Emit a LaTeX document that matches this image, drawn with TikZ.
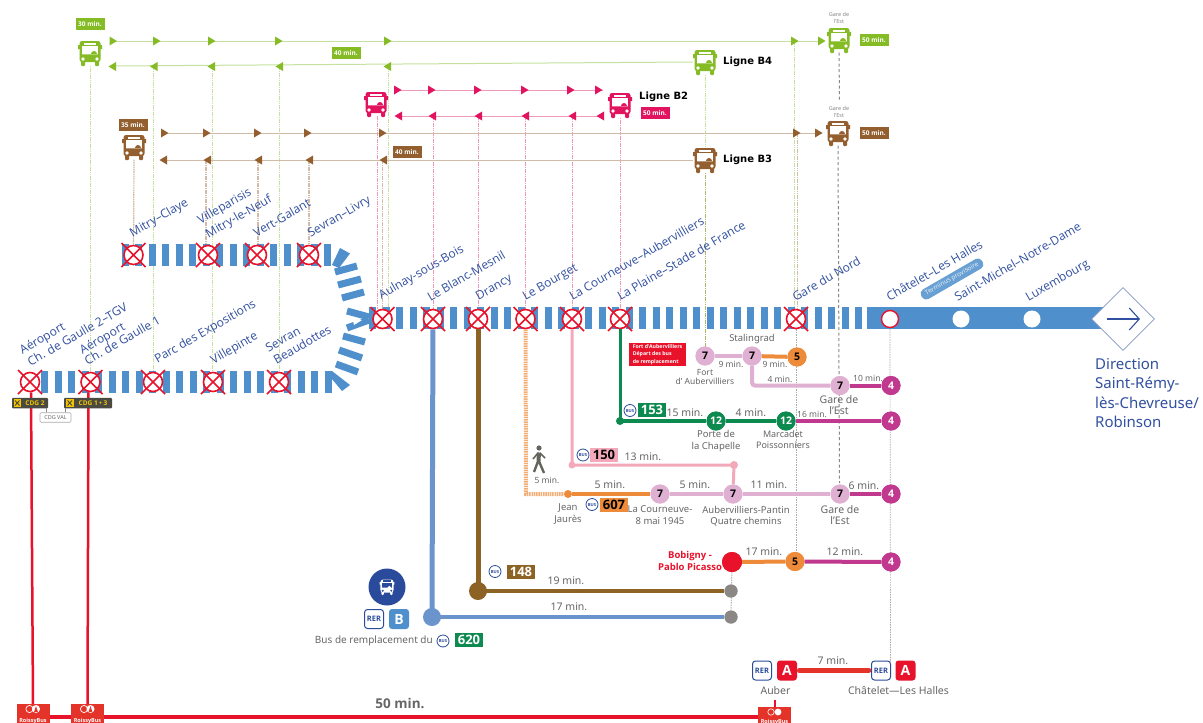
\documentclass[tikz,border=0pt]{standalone}
\usepackage{fontspec}
\setmainfont{Noto Sans}
\newfontfamily\stfont{Open Sans}
\newfontfamily\lgfont{DejaVu Sans}
\newfontfamily\bdff{Open Sans}
\newcommand\bdf{\bdff\bfseries}
\usetikzlibrary{shapes.geometric,arrows.meta}
\definecolor{cgreen}{HTML}{85BC25}
\definecolor{lgreen}{HTML}{C6E19F}
\definecolor{cpink}{HTML}{E2145F}
\definecolor{lpink}{HTML}{F09ABA}
\definecolor{cbrown}{HTML}{945F2E}
\definecolor{lbrown}{HTML}{D2BBA6}
\definecolor{barblue}{HTML}{4F8FCB}
\definecolor{stblue}{HTML}{31509F}
\definecolor{xred}{HTML}{E8132B}
\definecolor{mpink}{HTML}{E0B0D2}
\definecolor{magen}{HTML}{C1398F}
\definecolor{morange}{HTML}{EE8B3A}
\definecolor{mgreen}{HTML}{0D8A50}
\definecolor{mblue}{HTML}{6B94CD}
\definecolor{mbrown}{HTML}{8C6325}
\definecolor{mgrey}{HTML}{8A8785}
\definecolor{lrose}{HTML}{F4A9BB}
\definecolor{rerblue}{HTML}{2A4B9B}
\definecolor{txtgrey}{HTML}{666666}
\definecolor{dgrey}{HTML}{4A4A42}
\definecolor{cyell}{HTML}{F2C500}
\definecolor{lineA}{HTML}{E4342A}
\colorlet{buswin}{white}
\tikzset{
  pics/bus/.style={code={
    \fill[#1,rounded corners=2.5pt] (-10.5,-12) rectangle (10.5,9);
    \fill[#1] (-12,-8) rectangle (-10,-4) (10,-8) rectangle (12,-4);
    \fill[#1,rounded corners=1pt] (-9,7) rectangle (-5,13) (5,7) rectangle (9,13);
    \fill[buswin] (-8,-7) rectangle (8,1.5);
    \fill[#1] (-8,1.5) -- (-8,1) -- (1,1) arc[start angle=180,end angle=0,radius=3pt] -- (8,1) -- (8,1.5) -- cycle;
    \fill[buswin] (-6,-10.5) rectangle (6,-8.5);
    \fill[buswin] (-7,6) circle (1.8pt) (7,6) circle (1.8pt);
  }},
  busbox/.style={minimum width=24pt,minimum height=25pt,inner sep=0pt},
  vg/.style={lgreen,line width=1pt,dash pattern=on 1.6pt off .7pt},
  vb/.style={lbrown,line width=1.2pt,dash pattern=on 1.6pt off .7pt},
  vp/.style={lpink,line width=1pt,dash pattern=on 1.6pt off .7pt},
  vgrey/.style={mgrey,line width=1pt,dash pattern=on 3pt off 2.5pt},
  vfine/.style={mgrey!70,line width=.7pt,dash pattern=on 1.5pt off 1pt},
  bar/.style={barblue,line width=22pt,dash pattern=on 7pt off 6.5pt},
  arcbar/.style={barblue,line width=7pt},
  xst/.style={circle,draw=xred,fill=white,line width=1.6pt,minimum size=19pt,inner sep=0pt},
  xcr/.style={xred,line width=1.5pt},
  st/.style={text=stblue,font=\stfont\fontsize{12}{14}\selectfont,xshift=2.5pt,yshift=-1.5pt,rotate=30,anchor=base west,inner sep=0pt},
  wst/.style={circle,fill=white,minimum size=17pt,inner sep=0pt},
  tm/.style={text=txtgrey,font=\fontsize{10.5}{12}\selectfont,inner sep=0pt},
  tms/.style={text=txtgrey,font=\fontsize{8.5}{10}\selectfont,inner sep=0pt},
  capt/.style={text=txtgrey,font=\fontsize{9.5}{11.5}\selectfont,inner sep=0pt,align=center},
  mn/.style={circle,fill=#1,minimum size=19pt,inner sep=0pt,font=\bdf\fontsize{10.5}{12}\selectfont},
  gn/.style={circle,fill=mgrey,minimum size=13pt,inner sep=0pt},
  tag/.style={fill=#1,text=white,font=\bdf\fontsize{6.5}{8}\selectfont,inner sep=0pt,minimum width=29pt,minimum height=11.5pt},
  num/.style={fill=#1,font=\bdf\fontsize{13}{14}\selectfont,inner sep=0pt,minimum height=14pt,minimum width=28pt},
  buslogo/.style={circle,draw=rerblue,fill=white,line width=.8pt,minimum size=12pt,inner sep=0pt,text=rerblue,font=\bdf\fontsize{4.2}{5}\selectfont},
  lig/.style={font=\lgfont\bfseries\fontsize{10}{12}\selectfont,inner sep=0pt,anchor=west},
  rer/.style={draw=rerblue,line width=1pt,fill=white,rounded corners=3pt,text=rerblue,font=\bdf\fontsize{7.5}{9}\selectfont,minimum size=19pt,inner sep=0pt},
  lett/.style={fill=#1,text=white,rounded corners=3pt,font=\bdf\fontsize{14}{15}\selectfont,minimum size=20pt,inner sep=0pt},
  cdg/.style={fill=dgrey,text=cyell,rounded corners=1pt,font=\bdf\fontsize{6.5}{8}\selectfont,inner sep=0pt,minimum height=10.5pt},
  rbox/.style={fill=lineA,minimum width=33pt,minimum height=20pt,inner sep=0pt},
}
\newcommand\triR[3]{\fill[#3] (#1-4,#2-4.5) -- (#1+3.5,#2) -- (#1-4,#2+4.5) -- cycle;}
\newcommand\triL[3]{\fill[#3] (#1+4,#2-4.5) -- (#1-3.5,#2) -- (#1+4,#2+4.5) -- cycle;}
\newcommand\xstation[3]{\node[xst] (#1) at (#2,#3) {};
  \draw[xcr,shift={(#1)}] (-12,-12) -- (12,12) (-12,12) -- (12,-12);}
\newcommand\busat[4]{\node[busbox] (#1) at (#2,#3) {}; \pic at (#1) {bus=#4};}
\newcommand\roissy[1]{%
  \draw[white,line width=.7pt,shift={(#1)}] (-3.5,-5) circle (3.6pt);
  \fill[white,shift={(#1)}] (3,-5) circle (4pt);
  \fill[lineA,shift={(#1)}] (3,-8) -- (5,-2) -- (1,-2) -- cycle;
  \node[text=white,font=\bdf\fontsize{5.5}{6}\selectfont,inner sep=0pt] at ([yshift=-7pt]#1) {RoissyBus};}
\begin{document}
\begin{tikzpicture}[x=1pt,y=-1pt]
\fill[white] (0,0) rectangle (1203,723);
\useasboundingbox (0,0) rectangle (1203,723);

% --- buses
\busat{busGa}{90}{53}{cgreen}
\busat{busGb}{705}{62}{cgreen}
\busat{busGc}{839}{40}{cgreen}
\busat{busPa}{376}{104}{cpink}
\busat{busPb}{620}{105}{cpink}
\busat{busBa}{134}{147}{cbrown}
\busat{busBb}{705}{160}{cbrown}
\busat{busBc}{838}{133}{cbrown}

% --- stations (coordinates first so the connectors can refer to them)
\coordinate (rG1) at (0,41);
\coordinate (rG2) at (0,66);
\coordinate (rP1) at (0,90);
\coordinate (rP2) at (0,116);
\coordinate (rB1) at (0,133);
\coordinate (rB2) at (0,160);
\coordinate (xB) at (90.5,382);
\coordinate (xC) at (153,382);
\coordinate (xD) at (212.5,382);
\coordinate (xE) at (279,382);
\coordinate (uA) at (133.5,255);
\coordinate (uB) at (208,255);
\coordinate (uC) at (258,255);
\coordinate (uD) at (309,255);
\coordinate (mA) at (382.5,319);
\coordinate (mB) at (433,319);
\coordinate (mC) at (478,319);
\coordinate (mD) at (525.5,319);
\coordinate (mE) at (572,319);
\coordinate (mF) at (620,319);
\coordinate (mG) at (796,319);
\coordinate (mH) at (890,319);

% --- vertical feeder lines
\draw[vg] (xB |- busGa.south) -- (xB);
\draw[vg] (xC |- rG2) -- (xC);
\draw[vg] (xD |- rG2) -- (xD);
\draw[vg] (xE |- rG2) -- (xE);
\draw[vg] (388.5,66) -- (388.5,309);
\draw[vg] (busGb.south) -- (busBb.north);
\draw[vg] (794.5,41) -- (794.5,309);
\draw[vb] (busBa.south) -- (uA);
\draw[vb] ([xshift=-2pt]uB |- rB2) -- ([xshift=-2pt]uB);
\draw[vb] (uC |- rB2) -- (uC);
\draw[vb] (uD |- rB2) -- (uD);
\draw[vb] (mA |- rB2) -- (mA);
\draw[vb] (797.5,133) -- (797.5,309);
\draw[vp] (377.5,116) -- (377.5,309);
\draw[vp] (mB |- rP2) -- (mB);
\draw[vp] (mC |- rP2) -- (mC);
\draw[vp] (mD |- rP2) -- (mD);
\draw[vp] (mE |- rP2) -- (mE);
\draw[vp] (busPb.south) -- (mF);
\draw[line width=1pt,dash pattern=on 1.6pt off .7pt,color=cgreen!60!cbrown!70] (busBb.south) -- (705,347);
\draw[vgrey] (busGc.south) -- (839.5,101);
\draw[vgrey] (busBc.south) -- (839.5,483);
\draw[vfine] (mH) -- (890.5,662);
\draw[vfine] (mG) -- (796,552);

% --- bus rows
\draw[lgreen,line width=1pt] (110,41) -- (824,41);
\draw[lgreen,line width=1pt] (112,66) -- (busGb.west);
\draw[lpink,line width=1pt] (398,90) -- (603,90);
\draw[lpink,line width=1pt] (398,116) -- (603,116);
\draw[lbrown,line width=1pt] (162,133) -- (822,133);
\draw[lbrown,line width=1pt] (162,160) -- (busBb.west);
\foreach \x in {113.5,157,212,279,388,795,822}{\triR{\x}{41}{cgreen}}
\foreach \x in {112,153.5,211,279,387}{\triL{\x}{66.5}{cgreen}}
\foreach \x in {398,432,478,525,571,599}{\triR{\x}{90}{cpink}}
\foreach \x in {398,432,478,525,572,600}{\triL{\x}{116}{cpink}}
\foreach \x in {165,207,258,308,383,797,819}{\triR{\x}{133}{cbrown}}
\foreach \x in {163,207,258,309,383}{\triL{\x}{160}{cbrown}}

% --- time tags
\node[tag=cgreen] (t30) at (90,24) {30 min.};
\node[tag=cgreen] (t40g) at (346,53) {40 min.};
\node[tag=cgreen] (t50g) at (874,40) {50 min.};
\node[tag=cpink] (t50p) at (655,113) {50 min.};
\node[tag=cbrown] (t35) at (133,125) {35 min.};
\node[tag=cbrown] (t40b) at (407,152) {40 min.};
\node[tag=cbrown] (t50b) at (874,133) {50 min.};
\node[lig] (lb4) at (723,62) {Ligne B4};
\node[lig] (lb2) at (639,97) {Ligne B2};
\node[lig] (lb3) at (723,160) {Ligne B3};
\node[text=mgrey,font=\fontsize{5.5}{7}\selectfont,align=center,inner sep=0pt] (ge1) at (839,18) {Gare de\\l'Est};
\node[text=mgrey,font=\fontsize{5.5}{7}\selectfont,align=center,inner sep=0pt] (ge2) at (839,112) {Gare de\\l'Est};

% --- dashed trunk
\draw[bar] (121.5,255) -- (332,255);
\draw[bar] (41,381.5) -- (332,381.5);
\draw[bar] (369,318) -- (862,318);
\fill[barblue] (867,307) -- (1123,307) -- (1123,329) -- (867,329) -- cycle;
% curve
\fill[barblue] (340,248) -- (350,253.5) -- (339,268) -- (332,265) -- cycle;
\draw[arcbar] (335,272) -- (357,266);
\draw[arcbar] (338,285) -- (361,279);
\draw[arcbar] (342,298) -- (364,292);
\draw[arcbar] (347,311) -- (369,317);
\draw[arcbar] (347,328) -- (369,320);
\fill[white] (352,317) -- (362,320) -- (354,325) -- cycle;
\draw[arcbar] (343,336) -- (365,342);
\draw[arcbar] (339,350) -- (362,358);
\draw[arcbar] (336,364) -- (358,372);
\fill[barblue] (332,371) -- (350,385) -- (342,391) -- (332,379) -- cycle;

% --- crossed stations
\xstation{sA}{30}{382}
\xstation{sB}{90.5}{382}
\xstation{sC}{153}{382}
\xstation{sD}{213}{382}
\xstation{sE}{279}{382}
\xstation{sF}{133.5}{255}
\xstation{sG}{208}{255}
\xstation{sH}{257}{255}
\xstation{sI}{309}{255}
\xstation{sJ}{382.5}{319}
\xstation{sK}{433}{319}
\xstation{sL}{478}{319}
\xstation{sM}{525.5}{319}
\xstation{sN}{572}{319}
\xstation{sO}{620}{319}
\xstation{sP}{796}{319}
\node[circle,draw=xred,fill=white,line width=1.4pt,minimum size=17pt,inner sep=0pt] (sQ) at (890,319) {};
\node[wst] (sR) at (961,319) {};
\node[wst] (sS) at (1032,319) {};
\node[diamond,aspect=1,draw=stblue!60,fill=white,line width=.7pt,minimum size=63pt,inner sep=0pt] (dir) at (1123,319) {};
\draw[stblue,line width=1.1pt,-{Straight Barb[length=10pt,width=22pt,line width=1.1pt]}] ([xshift=-16pt]dir.center) -- ([xshift=17pt]dir.center);

% --- station names
\node[st] (nA1) at (20,353) {Aéroport};
\node[st] (nA2) at (28,365) {Ch. de Gaulle 2–TGV};
\node[st] (nB1) at (80,353) {Aéroport};
\node[st] (nB2) at (85,364) {Ch. de Gaulle 1};
\node[st] (nC) at (155,362) {Parc des Expositions};
\node[st] (nD) at (211,363) {Villepinte};
\node[st] (nE1) at (266,351) {Sevran};
\node[st] (nE2) at (274,363) {Beaudottes};
\node[st] (nF) at (130,236) {Mitry–Claye};
\node[st] (nG1) at (198,223) {Villeparisis};
\node[st] (nG2) at (206,237) {Mitry-le-Neuf};
\node[st] (nH) at (254,236) {Vert-Galant};
\node[st] (nI) at (308,236) {Sevran–Livry};
\node[st] (nJ) at (379,298) {Aulnay-sous-Bois};
\node[st] (nK) at (428,300) {Le Blanc-Mesnil};
\node[st] (nL) at (476,299) {Drancy};
\node[st] (nM) at (523,299) {Le Bourget};
\node[st] (nN) at (570,299) {La Courneuve–Aubervilliers};
\node[st] (nO) at (618,299) {La Plaine–Stade de France};
\node[st] (nP) at (793,300) {Gare du Nord};
\node[st] (nQ) at (887,300) {Châtelet–Les Halles};
\node[st] (nR) at (955,300) {Saint-Michel–Notre-Dame};
\node[st] (nS) at (1026,300) {Luxembourg};
\node[fill=barblue!85,text=white!85!barblue,rounded corners=4.5pt,rotate=30,font=\fontsize{6.5}{8}\selectfont,inner sep=0pt,minimum height=11pt,minimum width=70pt] (term) at (952,279) {Terminus provisoire};
\node[text=stblue,font=\fontsize{15}{19.2}\selectfont,align=left,anchor=north west,inner sep=0pt] (dirt) at (1095,358.5) {Direction\\Saint-Rémy-\\lès-Chevreuse/\\Robinson};

% --- lower network: lines
\coordinate (j620) at (432,617);
\coordinate (j148) at (478,591);
\node[gn] (g620) at (731,617) {};
\node[gn] (g148) at (731,591) {};
\node[circle,fill=xred,minimum size=20pt,inner sep=0pt] (bob) at (732,562) {};
\draw[vfine,line width=1pt,mgrey!60] (bob) -- (g620);
\draw[mblue,line width=5pt] (sK) -- (j620);
\draw[mblue,line width=4pt] (j620) -- (g620);
\fill[mblue] (j620) circle (9pt);
\draw[mbrown,line width=5pt] (sL) -- (j148);
\draw[mbrown,line width=4pt] (j148) -- (g148);
\fill[mbrown] (j148) circle (9pt);
\node[gn] at (g620) {};
\node[gn] at (g148) {};

% orange walking link
\coordinate (jw) at (526,494);
\node[circle,fill=morange,minimum size=8pt,inner sep=0pt] (jj) at (568,494) {};
\draw[morange!70,line width=4pt,dash pattern=on 1.5pt off .8pt] (sM) -- (jw) -- (jj);
\node[mn=mpink] (n7c) at (660,494) {7};
\node[mn=mpink] (n7d) at (733,494) {7};
\node[mn=mpink] (n7e) at (840,494) {7};
\node[mn=magen,text=white] (n4c) at (891,494) {4};
\draw[morange,line width=4pt] (jj) -- (n7c);
\draw[mpink,line width=4pt] (n7c) -- (n7d) -- (n7e);
\draw[magen,line width=4pt] (n7e) -- (n4c);
\node[mn=mpink] at (n7c) {7};
\node[mn=mpink] at (n7e) {7};
\node[mn=magen,text=white] at (n4c) {4};

% pink 150
\coordinate (j150) at (572,465);
\coordinate (k150) at (734,465);
\draw[lrose,line width=3pt] (sN) -- (j150) -- (k150) -- (n7d);
\fill[lrose] (j150) circle (3.5pt) (k150) circle (4pt);
\node[mn=mpink] at (n7d) {7};

% green 153
\coordinate (j153) at (620,421);
\node[mn=mgreen,text=white] (n12a) at (716,421) {12};
\node[mn=mgreen,text=white] (n12b) at (786,421) {12};
\node[mn=magen,text=white] (n4b) at (891,421) {4};
\draw[magen,line width=4pt] (n12b) -- (n4b);
\draw[mgreen,line width=3pt] (sO) -- (j153);
\draw[mgreen,line width=4pt] (j153) -- (n12a) -- (n12b);
\fill[mgreen] (j153) circle (4pt);
\node[mn=mgreen,text=white] at (n12a) {12};
\node[mn=mgreen,text=white] at (n12b) {12};
\node[mn=magen,text=white] at (n4b) {4};

% Stalingrad branch
\node[mn=mpink] (n7a) at (705,356) {7};
\node[mn=mpink] (n7b) at (752,356) {7};
\node[mn=morange] (n5a) at (797,357) {5};
\node[mn=mpink] (n7f) at (840,385.5) {7};
\node[mn=magen,text=white] (n4a) at (891,385.5) {4};
\draw[mpink,line width=4pt] (n7a) -- (n7b);
\draw[morange,line width=4pt] (n7b) -- (n5a);
\draw[mpink,line width=4pt,rounded corners=3pt] (n7b) -- (n7b |- n7f) -- (n7f);
\draw[magen,line width=4pt] (n7f) -- (n4a);
\node[mn=mpink] at (n7a) {7};
\node[mn=mpink] at (n7b) {7};
\node[mn=mpink] at (n7f) {7};
\node[mn=morange] at (n5a) {5};
\node[mn=magen,text=white] at (n4a) {4};

% Bobigny row
\node[mn=morange] (n5b) at (795,561.5) {5};
\node[mn=magen,text=white] (n4d) at (891,562) {4};
\draw[morange,line width=4pt] (bob) -- (n5b);
\draw[magen,line width=4pt] (n5b) -- (n4d);
\node[circle,fill=xred,minimum size=20pt,inner sep=0pt] at (bob) {};
\node[mn=morange] at (n5b) {5};
\node[mn=magen,text=white] at (n4d) {4};

% --- labels lower network
\node[fill=xred,text=white,font=\bdf\fontsize{5.2}{7.3}\selectfont,align=left,inner sep=1pt,minimum width=57pt,minimum height=23pt] (fa) at (657.5,354.5) {Fort d'Aubervilliers\\Départ des bus\\de remplacement};
\node[capt] (lst) at (752,339) {Stalingrad};
\node[tms] (t9a) at (731,364) {9 min.};
\node[tms] (t9b) at (775,364) {9 min.};
\node[capt,font=\fontsize{8.5}{9}\selectfont] (lfa) at (705,377) {Fort\\d' Aubervilliers};
\node[tms] (t4a) at (780,379) {4 min.};
\node[tms] (t10) at (868,378) {10 min.};
\node[capt,font=\fontsize{10.5}{11.5}\selectfont] (lge1) at (839,405) {Gare de\\l'Est};
\node[buslogo] (b153) at (630,410.5) {BUS};
\node[num=mgreen,text=white] (l153) at (652,410) {153};
\node[tm] (t15) at (685,412.5) {15 min.};
\node[tm] (t4b) at (751,412.5) {4 min.};
\node[tms] (t16) at (812,414) {16 min.};
\node[capt] (lpc) at (716,441) {Porte de\\la Chapelle};
\node[capt,font=\fontsize{9}{11}\selectfont] (lmp) at (783,440) {Marcadet\\Poissonniers};
\node[buslogo] (b150) at (583,455) {BUS};
\node[num=lrose] (l150) at (604,455) {150};
\node[tm] (t13) at (643,456.5) {13 min.};
\node[tms] (t5w) at (547,480) {5 min.};
% walker
\fill[dgrey!85] (539,448) circle (2.6pt);
\draw[dgrey!85,line width=4pt] (539,452.5) -- (538.5,461);
\draw[dgrey!85,line width=2.4pt] (538.5,460) -- (534,472) (538.5,460) -- (544,473);
\draw[dgrey!85,line width=1.6pt] (538,453) -- (533,459) (540,453) -- (545,458);
\node[tm] (t5a) at (610,485) {5 min.};
\node[tm] (t5b) at (695,485) {5 min.};
\node[tm] (t11) at (769,485) {11 min.};
\node[tm] (t6) at (864,486) {6 min.};
\node[buslogo] (b607) at (592,504.5) {BUS};
\node[num=morange] (l607) at (614,505) {607};
\node[capt] (ljj) at (568,514) {Jean\\Jaurès};
\node[capt] (llc) at (660,515) {La Courneuve-\\8 mai 1945};
\node[capt] (lau) at (746,516) {Aubervilliers-Pantin\\Quatre chemins};
\node[capt,font=\fontsize{10.5}{11.5}\selectfont] (lge2) at (840,515) {Gare de\\l'Est};
\node[text=xred,font=\bdf\fontsize{9.5}{12}\selectfont,align=center,inner sep=0pt] (lbo) at (690,561) {Bobigny -\\Pablo Picasso};
\node[tm] (t17a) at (764,552) {17 min.};
\node[tm] (t12) at (845,552) {12 min.};
\node[buslogo] (b148) at (495,571.5) {BUS};
\node[num=mbrown,text=white] (l148) at (521,572) {148};
\node[tm] (t19) at (566,580.5) {19 min.};
\node[tm] (t17b) at (569,607) {17 min.};

% replacement bus legend
\node[circle,fill=rerblue,minimum size=37pt,inner sep=0pt] (rb) at (387,587) {};
\begin{scope}
\colorlet{buswin}{rerblue}
\pic[scale=.62] at (rb) {bus=white};
\end{scope}
\node[rer] (rerB) at (374,619) {RER};
\node[lett=barblue] (letB) at (399,619) {B};
\node[capt,anchor=east,font=\fontsize{10}{11}\selectfont] (lrem) at (433,641) {Bus de remplacement du};
\node[buslogo] (b620) at (443,641) {BUS};
\node[num=mgreen,text=white] (l620) at (469,640) {620};

% RER A
\node[rer] (rerA1) at (762,670.5) {RER};
\node[lett=xred] (letA1) at (787,670.5) {A};
\node[rer] (rerA2) at (881,670.5) {RER};
\node[lett=xred] (letA2) at (905.5,670.5) {A};
\draw[lineA,line width=4.5pt,line cap=round] (letA1.east) ++(2,0) -- ([xshift=-2pt]rerA2.west);
\node[tm] (t7) at (833,660.5) {7 min.};
\node[capt,font=\fontsize{10.5}{12}\selectfont] (lau2) at (775.5,691) {Auber};
\node[capt,font=\fontsize{10.5}{12}\selectfont] (lch) at (898.5,691) {Châtelet—Les Halles};

% CDG + Roissybus
\node[rbox] (r1) at (33,714) {};
\node[rbox] (r2) at (87.5,714) {};
\node[rbox] (r3) at (774.5,717) {};
\coordinate (rr3) at (774.5,700);
\draw[xred,line width=2.5pt] (sA.south) ++(1,0) -- (r1.north);
\draw[xred,line width=2.5pt] (sB.south) ++(-2,0) -- (r2.north);
\draw[xred,line width=2pt] (rr3) -- (r3.north);
\draw[xred,line width=4pt] (r1.east) ++(0,3) -- (r2.west |- 0,717);
\draw[xred,line width=4pt] (r2.east) ++(0,3) -- (r3.west |- 0,717);
\roissy{r1}
\roissy{r2}
\node[text=white,font=\bdf\fontsize{5.5}{6}\selectfont,inner sep=0pt] (r3t) at (774.5,722) {RoissyBus};
\draw[white,line width=.6pt] (771,712) circle (3.2pt);
\fill[white] (778,712) circle (3.4pt);
\node[font=\bdf\fontsize{13.5}{14}\selectfont,text=txtgrey,inner sep=0pt] (t50) at (400,703) {50 min.};

\node[cdg,minimum width=36pt,align=right] (c2) at (30,403) {\hspace*{10pt}CDG 2};
\node[cdg,minimum width=48pt,align=right] (c13) at (88,403) {\hspace*{10pt}CDG 1 • 3};
\fill[cyell] (13.5,399) rectangle (21,407);
\fill[cyell] (66,399) rectangle (73.5,407);
\draw[dgrey,line width=.9pt] (15,405.5) -- (19.5,400.5) (15,400.5) -- (19.5,405.5);
\draw[dgrey,line width=.9pt] (67.5,405.5) -- (72,400.5) (67.5,400.5) -- (72,405.5);
\node[draw=mgrey!70,fill=white,rounded corners=1pt,line width=.6pt,text=txtgrey,font=\fontsize{5.5}{7}\selectfont,inner sep=0pt,minimum width=31pt,minimum height=9.5pt] (val) at (55.5,417.5) {CDG VAL};
\draw[mgrey,line width=.7pt] (val.north -| 46,0) -- (46,408);
\draw[mgrey,line width=.7pt] (val.north -| 65,0) -- (65,408);
\end{tikzpicture}
\end{document}
